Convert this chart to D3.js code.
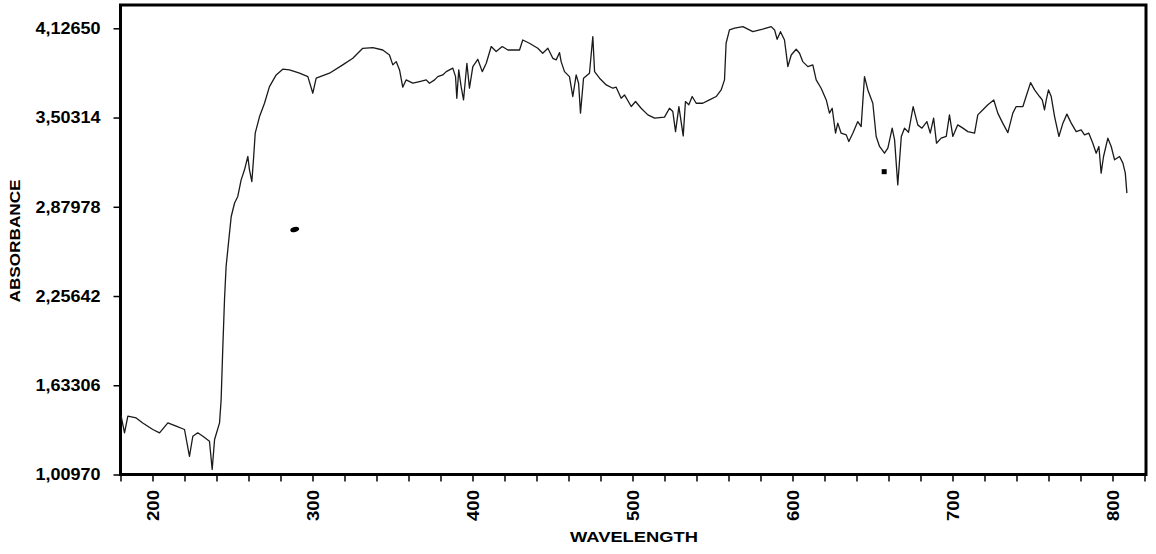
<!DOCTYPE html>
<html lang="en">
<head>
	<meta charset="UTF-8">
	<title>Absorbance spectrum</title>

	<script src="https://cdn.jsdelivr.net/npm/d3@7/dist/d3.min.js"></script>

	<style>
		body { margin: 0; background: #fff; }
		#vis text { font-family: "Liberation Sans", Arial, sans-serif; font-weight: bold; fill: #000; }
	</style>
</head>
<body>
	<div id="vis"></div>

	<script>
		// spectrum (nm, absorbance)
		var wavelength = [
			180.4, 182.5, 184.6, 189.8, 193.9, 200.2, 204.4, 209.6, 214.8, 220.0,
			223.1, 225.2, 228.3, 231.5, 235.6, 237.3, 238.8, 241.9, 242.9, 243.9,
			245.0, 246.0, 247.7, 249.2, 251.3, 253.3, 255.4, 257.5, 259.6, 260.6,
			262.1, 263.1, 264.2, 266.9, 270.0, 273.1, 277.3, 281.4, 285.6, 291.9,
			297.1, 300.2, 302.3, 310.6, 318.9, 325.2, 331.4, 337.7, 343.9, 348.1,
			350.2, 352.3, 354.4, 356.4, 358.5, 362.7, 366.9, 371.1, 373.1, 376.3,
			378.3, 381.4, 383.6, 387.7, 389.4, 390.2, 391.4, 392.9, 394.4, 396.5,
			398.1, 400.2, 403.3, 406.1, 408.6, 411.7, 414.8, 418.6, 422.1, 429.4,
			431.4, 435.6, 440.8, 443.9, 447.1, 450.2, 452.3, 454.4, 455.4, 457.5,
			460.6, 462.7, 464.8, 466.3, 467.5, 469.4, 473.1, 475.2, 476.3, 479.4,
			483.6, 487.7, 489.8, 492.9, 495.0, 499.2, 501.9, 505.4, 509.6, 513.8,
			520.0, 523.1, 525.2, 526.9, 529.0, 531.7, 533.1, 535.2, 537.3, 539.8,
			543.9, 548.1, 552.3, 555.4, 557.5, 558.5, 560.6, 563.8, 569.0, 575.2,
			581.4, 586.7, 588.8, 590.4, 592.5, 595.0, 597.1, 599.2, 602.3, 604.4,
			606.4, 609.6, 612.7, 614.8, 617.9, 621.1, 623.1, 624.8, 626.9, 628.3,
			630.4, 633.6, 635.2, 637.7, 640.8, 642.9, 645.0, 647.1, 650.2, 652.3,
			654.4, 657.5, 659.6, 662.3, 663.8, 665.8, 668.0, 670.0, 672.5, 675.4,
			678.3, 680.9, 684.0, 686.1, 688.2, 690.0, 692.9, 696.1, 698.1, 700.2,
			703.3, 706.5, 709.6, 713.8, 715.8, 719.0, 722.1, 725.8, 728.3, 731.4,
			734.6, 737.7, 739.8, 744.0, 746.0, 748.8, 751.3, 754.4, 756.1, 757.5,
			758.6, 760.0, 761.7, 763.8, 766.5, 769.0, 771.5, 774.2, 777.3, 780.4,
			782.5, 785.2, 787.7, 789.8, 791.5, 792.9, 794.4, 797.1, 799.2, 801.3,
			804.4, 806.5, 808.0, 809.0
		];
		var absorbance = [
			1.417, 1.301, 1.417, 1.405, 1.370, 1.324, 1.301, 1.370, 1.347, 1.324,
			1.137, 1.277, 1.301, 1.277, 1.242, 1.045, 1.254, 1.370, 1.533, 1.882,
			2.231, 2.463, 2.650, 2.812, 2.906, 2.952, 3.068, 3.138, 3.231, 3.138,
			3.056, 3.208, 3.394, 3.510, 3.603, 3.719, 3.801, 3.841, 3.836, 3.813,
			3.789, 3.673, 3.778, 3.813, 3.871, 3.917, 3.987, 3.992, 3.975, 3.940,
			3.871, 3.894, 3.836, 3.715, 3.766, 3.743, 3.754, 3.766, 3.743, 3.766,
			3.789, 3.801, 3.824, 3.848, 3.789, 3.638, 3.836, 3.719, 3.626, 3.882,
			3.708, 3.859, 3.910, 3.824, 3.882, 3.999, 3.964, 3.999, 3.975, 3.975,
			4.045, 4.022, 3.987, 3.952, 3.987, 3.917, 3.906, 3.957, 3.894, 3.824,
			3.789, 3.650, 3.801, 3.743, 3.534, 3.778, 3.813, 4.069, 3.824, 3.778,
			3.731, 3.708, 3.715, 3.638, 3.661, 3.580, 3.615, 3.568, 3.522, 3.499,
			3.506, 3.568, 3.545, 3.405, 3.580, 3.375, 3.615, 3.592, 3.650, 3.603,
			3.603, 3.626, 3.650, 3.696, 3.766, 4.022, 4.115, 4.127, 4.138, 4.103,
			4.120, 4.138, 4.115, 4.050, 4.103, 4.045, 3.859, 3.940, 3.980, 3.952,
			3.894, 3.859, 3.871, 3.766, 3.708, 3.626, 3.534, 3.568, 3.394, 3.464,
			3.394, 3.382, 3.336, 3.394, 3.475, 3.440, 3.789, 3.696, 3.603, 3.371,
			3.301, 3.254, 3.289, 3.429, 3.347, 3.033, 3.371, 3.429, 3.400, 3.580,
			3.452, 3.429, 3.475, 3.394, 3.499, 3.324, 3.359, 3.371, 3.522, 3.371,
			3.452, 3.429, 3.405, 3.394, 3.522, 3.557, 3.592, 3.626, 3.534, 3.464,
			3.398, 3.534, 3.580, 3.580, 3.650, 3.747, 3.696, 3.650, 3.626, 3.557,
			3.626, 3.696, 3.650, 3.510, 3.371, 3.464, 3.527, 3.464, 3.405, 3.417,
			3.382, 3.394, 3.324, 3.254, 3.301, 3.115, 3.231, 3.359, 3.301, 3.208,
			3.231, 3.185, 3.115, 2.975
		];

		var yTickValues = [1.00970, 1.63306, 2.25642, 2.87978, 3.50314, 4.12650];
		var xTickValues = [200, 300, 400, 500, 600, 700, 800];
		var xMinorStep = 20;

		// stray marks on the scanned sheet
		var speckWavelength = [288.9, 657.3];
		var speckAbsorbance = [2.721, 3.125];

		var width = 1156;
		var height = 554;

		var svg = d3.select("#vis").append("svg")
				.attr("width", width)
				.attr("height", height);

		var x = d3.scaleLinear()
				.domain([180, 820])
				.range([120.5, 1144.5]);

		var y = d3.scaleLinear()
				.domain([1.0097, 4.2893])
				.range([474.5, 5]);

		var comma = d3.formatLocale({decimal: ",", thousands: ".", grouping: [3], currency: ["", ""]});
		var fmt = comma.format(".5f");

		// left axis
		var yAxis = svg.append("g")
				.attr("transform", "translate(" + x.range()[0] + ",0)")
				.call(d3.axisLeft(y).tickValues(yTickValues).tickFormat(fmt).tickSize(7).tickPadding(13));
		yAxis.select(".domain").remove();
		yAxis.selectAll("line").attr("stroke", "#000").attr("stroke-width", 1.5);
		yAxis.selectAll("text")
				.attr("font-size", 17)
				.attr("textLength", 65)
				.attr("lengthAdjust", "spacingAndGlyphs");

		// bottom axis, minor ticks every 20 nm
		var xAll = d3.range(180, 821, xMinorStep);
		var xAxis = svg.append("g")
				.attr("transform", "translate(0," + y.range()[0] + ")")
				.call(d3.axisBottom(x).tickValues(xAll)
					.tickFormat(function(d) { return xTickValues.indexOf(d) >= 0 ? d : ""; })
					.tickSize(7));
		xAxis.select(".domain").remove();
		xAxis.selectAll("line").attr("stroke", "#000").attr("stroke-width", 1.5);
		xAxis.selectAll("text")
				.attr("font-size", 17)
				.attr("transform", "rotate(-90)")
				.attr("x", -15.5)
				.attr("y", 0)
				.attr("dy", "0.35em")
				.attr("text-anchor", "end")
				.filter(function(d) { return xTickValues.indexOf(d) >= 0; })
				.attr("textLength", 31)
				.attr("lengthAdjust", "spacingAndGlyphs");

		// frame
		svg.append("rect")
				.attr("x", x.range()[0])
				.attr("y", y.range()[1])
				.attr("width", x.range()[1] - x.range()[0] + 1.5)
				.attr("height", y.range()[0] - y.range()[1])
				.attr("fill", "none")
				.attr("stroke", "#000")
				.attr("stroke-width", 3);

		// spectrum
		var pts = wavelength.map(function(w, i) { return [w, absorbance[i]]; });
		var line = d3.line()
				.x(function(d) { return x(d[0]); })
				.y(function(d) { return y(d[1]); });

		svg.append("path")
				.datum(pts)
				.attr("d", line)
				.attr("fill", "none")
				.attr("stroke", "#1a1a1a")
				.attr("stroke-width", 1.3)
				.attr("stroke-linejoin", "round");

		// specks
		svg.append("ellipse")
				.attr("cx", x(speckWavelength[0]))
				.attr("cy", y(speckAbsorbance[0]))
				.attr("rx", 4.5)
				.attr("ry", 2.5)
				.attr("transform", "rotate(-15," + x(speckWavelength[0]) + "," + y(speckAbsorbance[0]) + ")")
				.attr("fill", "#000");
		svg.append("rect")
				.attr("x", x(speckWavelength[1]) - 2.5)
				.attr("y", y(speckAbsorbance[1]) - 2.5)
				.attr("width", 5)
				.attr("height", 5)
				.attr("fill", "#000");

		// axis titles
		svg.append("text")
				.attr("transform", "translate(15,241) rotate(-90)")
				.attr("text-anchor", "middle")
				.attr("dy", "0.35em")
				.attr("font-size", 15)
				.attr("textLength", 123)
				.attr("lengthAdjust", "spacingAndGlyphs")
				.text("ABSORBANCE");

		svg.append("text")
				.attr("x", 634)
				.attr("y", 537)
				.attr("text-anchor", "middle")
				.attr("dy", "0.35em")
				.attr("font-size", 15)
				.attr("textLength", 128)
				.attr("lengthAdjust", "spacingAndGlyphs")
				.text("WAVELENGTH");
	</script>
</body>
</html>
